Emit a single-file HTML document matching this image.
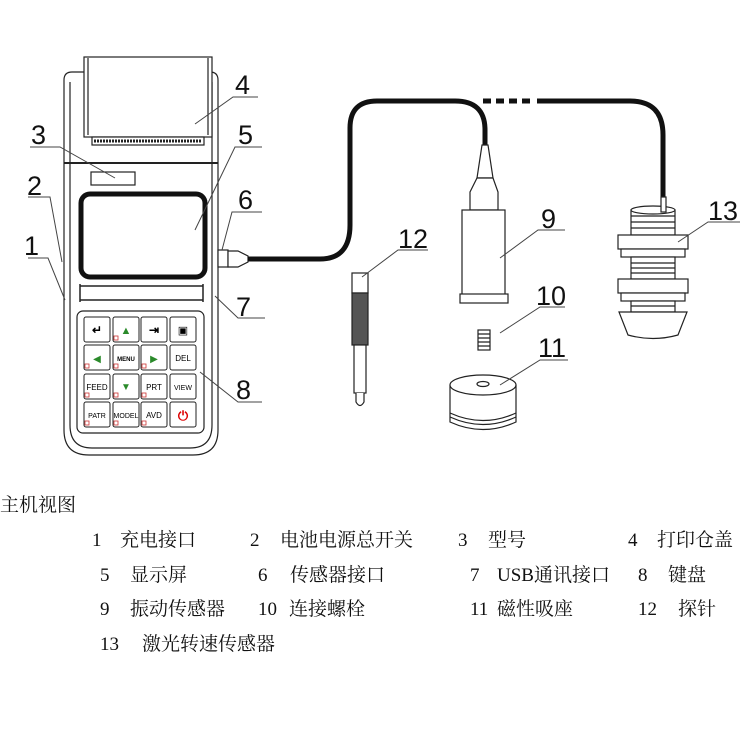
<!DOCTYPE html>
<html><head><meta charset="utf-8"><style>
html,body{margin:0;padding:0;background:#fff;}
svg{display:block;}
.l{font-family:"Liberation Sans",sans-serif;font-size:27px;fill:#111;}
.t{font-family:"Liberation Serif","Noto Serif CJK SC",serif;font-size:19px;fill:#111;}
</style></head><body>
<svg width="750" height="750" viewBox="0 0 750 750" xmlns="http://www.w3.org/2000/svg">
<g fill="none" stroke="#222" stroke-width="1.2">
<!-- device body -->
<path d="M64 80 Q64 72 72 72 L210 72 Q218 72 218 80 L218 430 Q218 455 193 455 L89 455 Q64 455 64 430 Z" fill="#fff"/>
<path d="M70 82 L70 425 Q70 448 92 448 L190 448 Q212 448 212 425 L212 82"/>
<line x1="64" y1="163" x2="218" y2="163" stroke-width="2"/>
<!-- printer cover -->
<rect x="84" y="57" width="128" height="80" fill="#fff"/>
<path d="M88 58 L88 135 M208 58 L208 135"/>
<rect x="92" y="137" width="112" height="8" fill="#fff"/>
<line x1="94" y1="141" x2="202" y2="141" stroke-width="3" stroke-dasharray="2 1"/>
<!-- model rect -->
<rect x="91" y="172" width="44" height="13"/>
<!-- screen -->
<rect x="81" y="194" width="124" height="83" rx="9" stroke="#111" stroke-width="5"/>
<!-- bar -->
<path d="M80 286 L203 286 M80 300 L203 300 M80 284 L80 302 M203 284 L203 302" stroke-width="1.5"/>
<!-- keypad -->
<rect x="77" y="311" width="127" height="122" rx="6"/>
<!-- connector -->
<rect x="218" y="250" width="10" height="17" fill="#fff"/>
<path d="M228 251 L238 251 L248 256 L248 262 L238 267 L228 267 Z" fill="#fff"/>
</g>
<!-- keys -->
<g font-family="Liberation Sans,sans-serif" text-anchor="middle">
<g fill="#fff" stroke="#222" stroke-width="1">
<rect x="84" y="317" width="26" height="25" rx="2"/><rect x="113" y="317" width="26" height="25" rx="2"/><rect x="141" y="317" width="26" height="25" rx="2"/><rect x="170" y="317" width="26" height="25" rx="2"/>
<rect x="84" y="345" width="26" height="25" rx="2"/><rect x="113" y="345" width="26" height="25" rx="2"/><rect x="141" y="345" width="26" height="25" rx="2"/><rect x="170" y="345" width="26" height="25" rx="2"/>
<rect x="84" y="374" width="26" height="25" rx="2"/><rect x="113" y="374" width="26" height="25" rx="2"/><rect x="141" y="374" width="26" height="25" rx="2"/><rect x="170" y="374" width="26" height="25" rx="2"/>
<rect x="84" y="402" width="26" height="25" rx="2"/><rect x="113" y="402" width="26" height="25" rx="2"/><rect x="141" y="402" width="26" height="25" rx="2"/><rect x="170" y="402" width="26" height="25" rx="2"/>
</g>
<text x="97" y="334" font-size="12" font-weight="bold">↵</text>
<text x="126" y="334" font-size="11" fill="#2a8a2a">▲</text>
<text x="154" y="334" font-size="12" font-weight="bold">⇥</text>
<text x="183" y="334" font-size="11">▣</text>
<text x="97" y="362" font-size="10" fill="#2a8a2a">◀</text>
<text x="126" y="361" font-size="6" font-weight="bold">MENU</text>
<text x="154" y="362" font-size="10" fill="#2a8a2a">▶</text>
<text x="183" y="361" font-size="8">DEL</text>
<text x="97" y="390" font-size="8">FEED</text>
<text x="126" y="390" font-size="10" fill="#2a8a2a">▼</text>
<text x="154" y="390" font-size="8">PRT</text>
<text x="183" y="390" font-size="7">VIEW</text>
<text x="97" y="418" font-size="7">PATR</text>
<text x="126" y="418" font-size="7">MODEL</text>
<text x="154" y="418" font-size="8">AVD</text>
<text x="183" y="420" font-size="13" fill="#d00" font-weight="bold">⏻</text>
<g fill="none" stroke="#c33" stroke-width="0.8">
<rect x="114" y="336" width="4" height="4"/><rect x="85" y="364" width="4" height="4"/><rect x="114" y="364" width="4" height="4"/><rect x="142" y="364" width="4" height="4"/>
<rect x="85" y="393" width="4" height="4"/><rect x="114" y="393" width="4" height="4"/><rect x="142" y="393" width="4" height="4"/>
<rect x="85" y="421" width="4" height="4"/><rect x="114" y="421" width="4" height="4"/><rect x="142" y="421" width="4" height="4"/>
</g>
</g>
<!-- cables -->
<g fill="none" stroke="#111" stroke-width="5">
<path d="M248 259 L320 259 Q350 259 350 225 L350 128 Q350 101 377 101 L455 101 Q485 101 485 130 L485 145"/>
<path d="M483 101 L530 101" stroke-dasharray="8 5"/>
<path d="M537 101 L630 101 Q663 101 663 135 L663 198"/>
</g>
<!-- probe 9 -->
<g fill="#fff" stroke="#222" stroke-width="1.2">
<path d="M482 145 L488 145 L493 178 L477 178 Z"/>
<path d="M477 178 L493 178 L498 192 L498 210 L470 210 L470 192 Z"/>
<rect x="462" y="210" width="43" height="85"/>
<rect x="460" y="294" width="48" height="9"/>
<!-- spring -->
<rect x="478" y="330" width="12" height="20"/>
<path d="M478 334 H490 M478 338 H490 M478 342 H490 M478 346 H490"/>
<!-- magnet -->
<path d="M450 385 L450 422 Q483 437 516 422 L516 385"/>
<ellipse cx="483" cy="385" rx="33" ry="10"/>
<ellipse cx="483" cy="384" rx="6" ry="2.5"/>
<path d="M450 413 Q483 428 516 413 M450 417 Q483 432 516 417"/>
<!-- probe 12 -->
<rect x="352" y="273" width="16" height="20"/>
<rect x="352" y="293" width="16" height="52" fill="#555"/>
<rect x="354" y="345" width="12" height="48"/>
<path d="M356 393 L356 402 Q360 409 364 402 L364 393"/>
<!-- sensor 13 -->
<rect x="631" y="210" width="44" height="25"/>
<ellipse cx="653" cy="210" rx="22" ry="4"/>
<rect x="661" y="197" width="5" height="15"/>
<rect x="618" y="235" width="70" height="14"/>
<rect x="621" y="249" width="64" height="8"/>
<rect x="631" y="257" width="44" height="22"/>
<rect x="618" y="279" width="70" height="14"/>
<rect x="621" y="293" width="64" height="8"/>
<rect x="631" y="301" width="44" height="11"/>
<path d="M619 312 L687 312 L678 335 Q653 342 628 335 Z"/>
<path d="M631 216 H675 M631 222 H675 M631 228 H675 M631 263 H675 M631 268 H675 M631 273 H675 M631 306 H675"/>
</g>
<!-- leaders -->
<g stroke="#444" stroke-width="1" fill="none">
<path d="M195 124 L233 97 L258 97"/>
<path d="M30 147 L60 147 L115 178"/>
<path d="M195 230 L235 147 L262 147"/>
<path d="M222 250 L232 212 L262 212"/>
<path d="M28 197 L50 197 L62 262"/>
<path d="M28 258 L48 258 L65 300"/>
<path d="M215 296 L238 318 L265 318"/>
<path d="M200 372 L238 402 L262 402"/>
<path d="M362 277 L398 250 L428 250"/>
<path d="M500 258 L538 230 L565 230"/>
<path d="M500 333 L540 307 L565 307"/>
<path d="M500 385 L540 360 L568 360"/>
<path d="M678 242 L708 222 L740 222"/>
</g>
<g class="l">
<text x="235" y="94">4</text>
<text x="31" y="144">3</text>
<text x="238" y="144">5</text>
<text x="238" y="209">6</text>
<text x="27" y="195">2</text>
<text x="24" y="255">1</text>
<text x="236" y="316">7</text>
<text x="236" y="399">8</text>
<text x="398" y="248">12</text>
<text x="541" y="228">9</text>
<text x="536" y="305">10</text>
<text x="538" y="357">11</text>
<text x="708" y="220">13</text>
</g>
<g class="t">
<text x="0" y="511">主机视图</text>
<text x="92" y="546">1</text><text x="120" y="546">充电接口</text>
<text x="250" y="546">2</text><text x="280" y="546">电池电源总开关</text>
<text x="458" y="546">3</text><text x="488" y="546">型号</text>
<text x="628" y="546">4</text><text x="657" y="546">打印仓盖</text>
<text x="100" y="581">5</text><text x="130" y="581">显示屏</text>
<text x="258" y="581">6</text><text x="290" y="581">传感器接口</text>
<text x="470" y="581">7</text><text x="497" y="581">USB通讯接口</text>
<text x="638" y="581">8</text><text x="668" y="581">键盘</text>
<text x="100" y="615">9</text><text x="130" y="615">振动传感器</text>
<text x="258" y="615">10</text><text x="289" y="615">连接螺栓</text>
<text x="470" y="615">11</text><text x="497" y="615">磁性吸座</text>
<text x="638" y="615">12</text><text x="678" y="615">探针</text>
<text x="100" y="650">13</text><text x="142" y="650">激光转速传感器</text>
</g>
</svg>
</body></html>
